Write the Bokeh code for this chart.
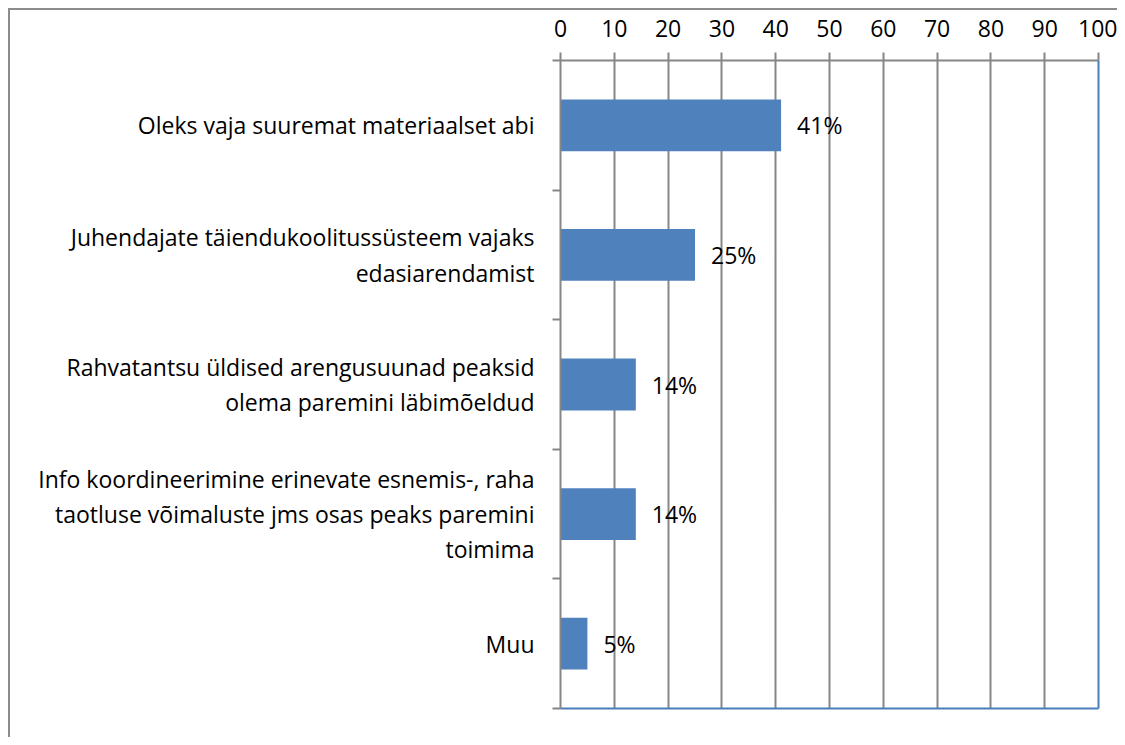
from bokeh.plotting import figure
from bokeh.models import Range1d, FixedTicker, LinearAxis, ColumnDataSource
from bokeh.core.properties import value
from bokeh.embed import file_html
from bokeh.resources import INLINE

categories = [
    "Oleks vaja suuremat materiaalset abi",
    "Juhendajate täiendukoolitussüsteem vajaks\nedasiarendamist",
    "Rahvatantsu üldised arengusuunad peaksid\nolema paremini läbimõeldud",
    "Info koordineerimine erinevate esnemis-, raha\ntaotluse võimaluste jms osas peaks paremini\ntoimima",
    "Muu",
]
values = [41, 25, 14, 14, 5]
value_labels = ["41%", "25%", "14%", "14%", "5%"]
x_ticks = [0, 10, 20, 30, 40, 50, 60, 70, 80, 90, 100]

FONT = "Open Sans"
FS = "23px"
GRID = "#868686"
BAR = "#4F81BD"
EDGE = "#4A7EBB"

n = len(categories)
pos = [i + 0.5 for i in range(n)]

p = figure(
    width=1109, height=729,
    x_range=Range1d(0, 100), y_range=Range1d(n, 0),
    output_backend="svg", toolbar_location=None,
    x_axis_location="above",
    min_border_left=550, min_border_right=21,
    min_border_top=50, min_border_bottom=31,
)
p.styles = {"border-top": "2px solid #8c8c8c", "border-left": "2px solid #8c8c8c",
            "box-sizing": "border-box", "margin-top": "8px", "margin-left": "8px"}
p.outline_line_color = None
p.background_fill_color = "white"
p.border_fill_color = "white"

src = ColumnDataSource(dict(y=pos, right=values, lab=value_labels))
p.hbar(y="y", left=0, right="right", height=0.4, source=src,
       fill_color=BAR, line_color=None)
p.text(x="right", y="y", text="lab", source=src, x_offset=16,
       text_align="left", text_baseline="middle",
       text_font=value(FONT), text_font_size=FS, text_color="black")

# grid
p.ygrid.visible = False
p.xgrid.ticker = FixedTicker(ticks=x_ticks)
p.xgrid.grid_line_color = GRID
p.xgrid.grid_line_width = 2

# top axis
xa = p.xaxis[0]
xa.ticker = FixedTicker(ticks=x_ticks)
xa.axis_line_color = GRID
xa.axis_line_width = 2
xa.major_tick_line_color = GRID
xa.major_tick_line_width = 2
xa.major_tick_out = 8
xa.major_tick_in = 0
xa.minor_tick_line_color = None
xa.major_label_standoff = 16
xa.major_label_text_baseline = "bottom"
xa.major_label_text_line_height = 0.9
xa.major_label_text_font = FONT
xa.major_label_text_font_size = FS
xa.major_label_text_color = "black"

# left axis
ya = p.yaxis[0]
ya.ticker = FixedTicker(ticks=pos, minor_ticks=list(range(n + 1)))
ya.major_label_overrides = {pos[i]: categories[i] for i in range(n)}
ya.axis_line_color = GRID
ya.axis_line_width = 2
ya.major_tick_out = 0
ya.major_tick_in = 0
ya.major_tick_line_color = None
ya.minor_tick_line_color = GRID
ya.minor_tick_line_width = 2
ya.minor_tick_out = 8
ya.minor_tick_in = 0
ya.major_label_standoff = 18
ya.major_label_text_font = FONT
ya.major_label_text_font_size = FS
ya.major_label_text_line_height = 1.1
ya.major_label_text_color = "black"
ya.major_label_text_align = "right"

# right and bottom edges
for loc in ("right", "below"):
    ax = LinearAxis(ticker=FixedTicker(ticks=[]), axis_line_color=EDGE, axis_line_width=2,
                    major_tick_line_color=None, minor_tick_line_color=None,
                    major_label_text_font_size="0px", major_tick_out=0, major_label_standoff=0)
    p.add_layout(ax, loc)

open("out.html", "w").write(file_html(p, INLINE))
